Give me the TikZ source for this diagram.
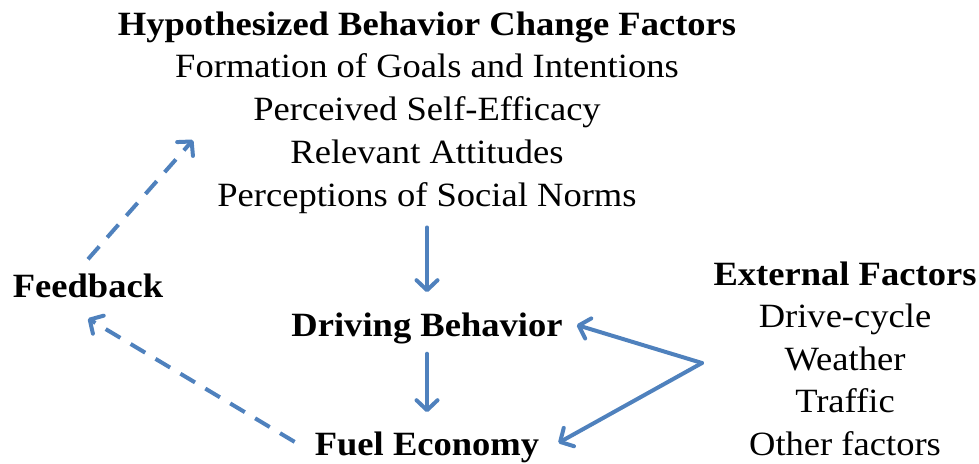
\documentclass[tikz,border=0pt]{standalone}
\usepackage{fontspec}
\setmainfont{Liberation Serif}[FakeStretch=1.075]
\usetikzlibrary{arrows.meta}
\definecolor{flowblue}{RGB}{79,129,189}
\begin{document}
\begin{tikzpicture}[x=1pt,y=-1pt,
  txt/.style={inner sep=0pt, anchor=base, font=\fontsize{34}{40}\selectfont},
  head/.style={txt, font=\fontsize{34}{40}\selectfont\bfseries},
  link/.style={draw=flowblue, line width=4pt,
    -{Straight Barb[length=10pt,width=21pt,round]}},
  solidlink/.style={link, line cap=round},
  dashlink/.style={link, dash pattern=on 17pt off 12pt}]
\useasboundingbox (0,0) rectangle (979,463);

% behaviour change factors
\node[head] (factors) at (427,35)  {Hypothesized Behavior Change Factors};
\node[txt]  (goals)   at (427,77)  {Formation of Goals and Intentions};
\node[txt]  (effic)   at (427,120) {Perceived Self-Efficacy};
\node[txt]  (attit)   at (427,163) {Relevant Attitudes};
\node[txt]  (norms)   at (427,206) {Perceptions of Social Norms};

% main chain
\node[head] (drive)   at (427,336) {Driving Behavior};
\node[head] (fuel)    at (427,455) {Fuel Economy};

% feedback loop
\node[head] (feedback) at (88,297) {Feedback};
\coordinate (fbtip) at (193,140);

% external factors
\node[head] (ext)     at (845,285) {External Factors};
\node[txt]  (cycle)   at (845,327) {Drive-cycle};
\node[txt]  (weather) at (845,370) {Weather};
\node[txt]  (traffic) at (845,412) {Traffic};
\node[txt]  (other)   at (845,455) {Other factors};
\coordinate (junction) at (702,363);

% connectors
\draw[solidlink, shorten <=14pt, shorten >=20pt]
  (norms.south) -- (norms.south |- drive.north);
\draw[solidlink, shorten <=10pt, shorten >=19pt]
  (drive.south) -- (drive.south |- fuel.north);
\draw[solidlink] (junction) -- ([xshift=14pt,yshift=3pt]drive.east);
\draw[solidlink] (junction) -- ([xshift=19pt,yshift=4pt]fuel.east);
\draw[dashlink] ([yshift=14pt]feedback.north) -- (fbtip);
\draw[dashlink] ([xshift=-20pt,yshift=5pt]fuel.west) -- ([yshift=-21pt]feedback.south);
\end{tikzpicture}
\end{document}
